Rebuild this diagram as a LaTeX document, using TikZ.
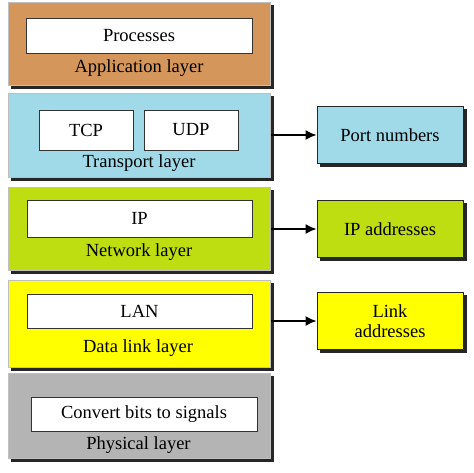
\documentclass[tikz,border=0pt]{standalone}
\usepackage{fontspec}
\setmainfont{Liberation Serif}
\usetikzlibrary{positioning, arrows.meta}
\definecolor{appcol}{RGB}{212,150,90}
\definecolor{trancol}{RGB}{160,218,232}
\definecolor{netcol}{RGB}{190,222,18}
\definecolor{linkcol}{RGB}{255,255,0}
\definecolor{phycol}{RGB}{180,180,180}
\begin{document}
\begin{tikzpicture}[x=1pt, y=-1pt, font=\rmfamily\fontsize{18.5}{20}\selectfont,
    shade3/.style={preaction={fill=black!85, draw=black!85, transform canvas={xshift=3pt, yshift=-3pt}}},
    layer/.style={draw=gray!50, line width=1pt, minimum width=262pt, minimum height=83pt, inner sep=0pt, shade3},
    inbox/.style={draw=black!80, fill=white, line width=0.9pt, inner sep=0pt},
    addr/.style={draw=black!85, line width=0.9pt, minimum width=146pt, minimum height=57pt, inner sep=0pt, align=center, shade3},
    lbl/.style={inner sep=0pt},
    link/.style={-{Latex[length=11pt,width=10pt]}, line width=1.6pt}]
    \useasboundingbox (0,0) rectangle (474,472);
    % layers
    \node[layer, fill=appcol] (app) at (139,43.5) {};
    \node[layer, fill=trancol, minimum height=84pt] (tra) at (139,135) {};
    \node[layer, fill=netcol] (net) at (139,228.5) {};
    \node[layer, fill=linkcol, minimum height=87pt] (dll) at (139,323.5) {};
    \node[layer, fill=phycol, minimum height=85pt] (phy) at (139,415.5) {};
    % inner boxes
    \node[inbox, minimum width=226pt, minimum height=35pt] (proc) at (139,35.5) {Processes};
    \node[inbox, minimum width=94pt, minimum height=40pt] (tcp) at (86,130) {TCP};
    \node[inbox, minimum width=94pt, minimum height=40pt] (udp) at (191,130) {UDP};
    \node[inbox, minimum width=225pt, minimum height=37pt] (ip) at (139.5,218.5) {IP};
    \node[inbox, minimum width=225pt, minimum height=34pt] (lan) at (139.5,311) {LAN};
    \node[inbox, minimum width=226pt, minimum height=34pt] (conv) at (144,414) {Convert bits to signals};
    % layer names
    \node[lbl] (applbl) at (139,68) {Application layer};
    \node[lbl] (tralbl) at (139,163) {Transport layer};
    \node[lbl] (netlbl) at (139,252) {Network layer};
    \node[lbl] (dlllbl) at (138,348) {Data link layer};
    \node[lbl] (phylbl) at (138.5,445) {Physical layer};
    % addresses
    \node[addr, fill=trancol] (port) at (390,135) {Port numbers};
    \node[addr, fill=netcol] (ipaddr) at (390,229) {IP addresses};
    \node[addr, fill=linkcol] (lnkaddr) at (390,321) {Link\\addresses};
    \draw[link] (port.west -| tra.east) -- (port.west);
    \draw[link] (ipaddr.west -| net.east) -- (ipaddr.west);
    \draw[link] (lnkaddr.west -| dll.east) -- (lnkaddr.west);
\end{tikzpicture}
\end{document}
